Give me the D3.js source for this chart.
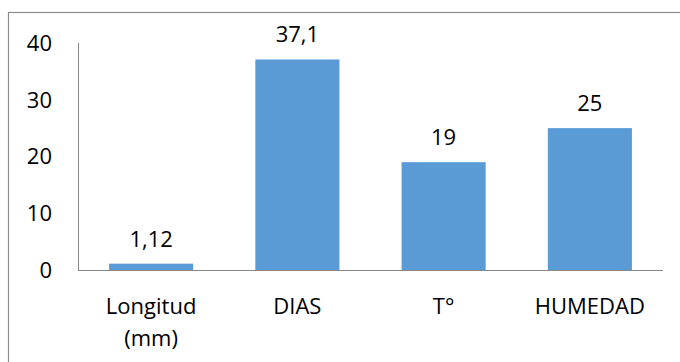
<!DOCTYPE html>
<html>
<head>
<meta charset="utf-8">
<script src="https://cdn.jsdelivr.net/npm/d3@7"></script>
<style>
  body { margin: 0; background: #fff; }
  text { font-family: "Open Sans", sans-serif; fill: #000; }
</style>
</head>
<body>
<div id="chart"></div>
<script>
// data
var categories = [["Longitud", "(mm)"], ["DIAS"], ["T°"], ["HUMEDAD"]];
var values = [1.12, 37.1, 19, 25];
var valueLabels = ["1,12", "37,1", "19", "25"];
var yTicks = [0, 10, 20, 30, 40];

var W = 680, H = 362;
var margin = {top: 43, left: 78, right: 17, bottom: 92};

var svg = d3.select("#chart")
  .append("svg")
    .attr("width", W)
    .attr("height", H);

// chart frame (only left and top edges fall inside the picture)
svg.append("rect")
    .attr("x", 8.5)
    .attr("y", 12.5)
    .attr("width", 700)
    .attr("height", 400)
    .attr("fill", "none")
    .attr("stroke", "#8c8c8c")
    .attr("stroke-width", 1.2);

var x = d3.scaleBand()
    .domain(d3.range(values.length))
    .range([margin.left, W - margin.right])
    .paddingInner(0.425)
    .paddingOuter(0.2125);

var y = d3.scaleLinear()
    .domain([0, 40])
    .range([H - margin.bottom, margin.top]);

// bars
svg.append("g")
  .selectAll("rect")
  .data(values)
  .enter().append("rect")
    .attr("x", function(d, i) { return x(i); })
    .attr("y", function(d) { return y(d); })
    .attr("width", x.bandwidth())
    .attr("height", function(d) { return y(0) - y(d); })
    .attr("fill", "#5b9bd5");

// axis lines
svg.append("line")
    .attr("x1", margin.left + 0.5).attr("x2", margin.left + 0.5)
    .attr("y1", y(0)).attr("y2", y(40))
    .attr("stroke", "#898989").attr("stroke-width", 1);
svg.append("line")
    .attr("x1", margin.left).attr("x2", W - margin.right)
    .attr("y1", y(0) + 0.5).attr("y2", y(0) + 0.5)
    .attr("stroke", "#898989").attr("stroke-width", 1);

// y tick labels
svg.append("g")
  .selectAll("text")
  .data(yTicks)
  .enter().append("text")
    .attr("x", 52)
    .attr("y", function(d) { return y(d); })
    .attr("dy", "0.36em")
    .attr("text-anchor", "end")
    .style("font-size", "22px")
    .text(function(d) { return d; });

// value labels
svg.append("g")
  .selectAll("text")
  .data(values)
  .enter().append("text")
    .attr("x", function(d, i) { return x(i) + x.bandwidth() / 2; })
    .attr("y", function(d) { return y(d) - 17; })
    .attr("text-anchor", "middle")
    .style("font-size", "22px")
    .text(function(d, i) { return valueLabels[i]; });

// category labels
var cat = svg.append("g")
  .selectAll("text")
  .data(categories)
  .enter().append("text")
    .attr("x", function(d, i) { return x(i) + x.bandwidth() / 2; })
    .attr("y", 314)
    .attr("text-anchor", "middle")
    .style("font-size", "22px");

cat.selectAll("tspan")
  .data(function(d) { return d; })
  .enter().append("tspan")
    .attr("x", function() { return d3.select(this.parentNode).attr("x"); })
    .attr("dy", function(d, i) { return i === 0 ? 0 : 32; })
    .text(function(d) { return d; });
</script>
</body>
</html>
